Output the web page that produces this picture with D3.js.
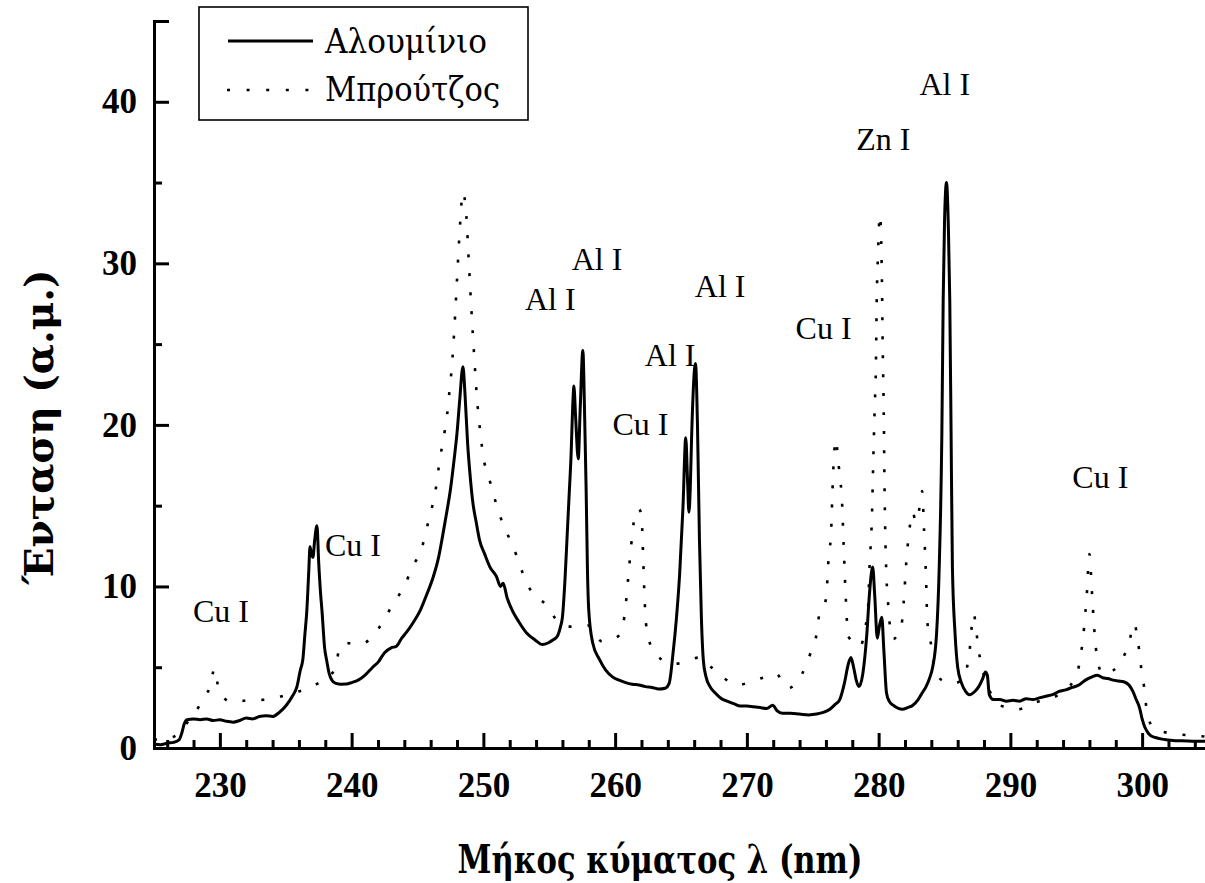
<!DOCTYPE html>
<html>
<head>
<meta charset="utf-8">
<script src="https://cdn.jsdelivr.net/npm/d3@7"></script>
<style>
  body { margin: 0; background: #fff; }
  svg { display: block; font-family: "Liberation Serif", "DejaVu Serif", serif; }
</style>
</head>
<body>
<svg class="chart1"></svg>
<script>
// Aluminium spectrum (solid line): wavelength in nm, intensity in a.u.
var alX = [225.0,225.5,226.0,226.5,226.9,227.1,227.3,227.5,228.0,228.5,229.0,229.5,230.0,230.5,231.0,231.5,232.0,232.5,233.0,233.5,234.0,234.5,235.0,235.5,235.85,236.1,236.3,236.45,236.6,236.75,236.84,236.95,237.06,237.2,237.37,237.5,237.65,237.75,237.95,238.1,238.3,238.5,238.8,239.2,239.6,240.0,240.5,241.0,241.6,242.0,242.5,243.0,243.4,243.8,244.2,244.7,245.2,245.7,246.2,246.6,246.9,247.2,247.5,247.8,248.0,248.2,248.45,248.6,248.8,249.0,249.2,249.45,249.7,250.1,250.5,251.0,251.3,251.5,251.8,252.2,252.7,253.3,253.9,254.5,254.9,255.3,255.6,255.85,256.0,256.2,256.35,256.5,256.65,256.8,256.87,257.0,257.2,257.35,257.55,257.7,257.8,257.9,258.0,258.3,258.8,259.3,259.8,260.3,260.8,261.3,261.8,262.3,262.8,263.3,263.8,264.1,264.4,264.65,264.9,265.15,265.36,265.5,265.6,265.7,265.8,266.1,266.25,266.4,266.55,266.7,266.9,267.2,267.6,268.0,268.5,269.0,269.5,270.0,270.5,271.0,271.5,271.96,272.3,272.7,273.3,274.0,274.7,275.3,275.8,276.3,276.7,277.05,277.4,277.7,277.9,278.1,278.3,278.5,278.8,279.1,279.3,279.55,279.7,279.9,280.05,280.24,280.4,280.6,280.8,281.1,281.5,281.8,282.2,282.6,283.0,283.3,283.6,283.9,284.1,284.4,284.6,284.8,284.9,285.0,285.15,285.3,285.4,285.5,285.6,285.8,286.0,286.3,286.6,286.9,287.3,287.6,287.9,288.1,288.25,288.4,288.7,289.2,289.7,290.2,290.7,291.2,291.7,292.2,292.7,293.2,293.7,294.2,294.7,295.2,295.7,296.2,296.6,297.0,297.4,297.8,298.2,298.6,299.0,299.3,299.55,299.8,300.0,300.2,300.4,300.6,301.0,301.5,302.0,302.5,303.0,304.0,305.0];
var alY = [0.25,0.2,0.3,0.35,0.5,0.9,1.5,1.75,1.8,1.75,1.8,1.7,1.75,1.65,1.6,1.7,1.85,1.8,1.95,2.0,1.95,2.2,2.6,3.2,3.8,4.8,5.5,7.0,8.5,11.0,12.45,12.0,11.8,12.9,13.75,11.5,9.5,8.5,6.2,5.45,4.6,4.2,4.0,3.95,3.96,4.05,4.2,4.5,5.0,5.3,5.9,6.2,6.3,6.8,7.2,7.8,8.5,9.5,10.6,11.8,13.1,14.5,16.0,18.0,19.5,21.5,23.6,22.0,18.9,16.8,15.2,14.0,12.9,12.0,11.2,10.6,10.0,10.2,9.3,8.5,7.8,7.1,6.7,6.4,6.5,6.7,6.9,7.5,8.1,10.5,13,15.5,18,21.5,22.4,20.5,17.9,21,24.6,20,16,11,8.5,6.5,5.5,4.8,4.4,4.2,4.05,3.95,3.9,3.8,3.75,3.65,3.7,4.0,5.9,8,10.8,14.9,19.2,16.5,14.6,16,19.1,23.8,20,12.9,8,5.4,4.4,3.8,3.4,3.1,2.9,2.75,2.6,2.6,2.55,2.5,2.45,2.65,2.3,2.15,2.15,2.1,2.05,2.1,2.2,2.4,2.7,3.0,4.0,5.2,5.6,5.0,4.2,3.8,4.6,7,9.5,11.2,9.5,6.8,7.5,8.1,6.0,3.4,2.9,2.65,2.45,2.4,2.5,2.65,3.0,3.4,3.8,4.4,5.0,7.1,11.2,19.5,27.7,32.5,35.0,32.0,27.7,19.5,11.2,7.1,5.0,4.0,3.5,3.3,3.5,3.8,4.3,4.7,4.5,3.3,3.0,3.0,2.9,2.95,2.9,3.05,3.0,3.1,3.2,3.3,3.5,3.6,3.75,3.9,4.2,4.4,4.5,4.35,4.3,4.2,4.15,4.1,3.9,3.5,3.0,2.5,1.8,1.3,1.0,0.8,0.65,0.55,0.5,0.45,0.45,0.42,0.42];

// Brass spectrum (dotted line)
var brX = [225.0,225.5,226.4,227.0,227.8,228.4,228.9,229.2,229.6,229.9,230.3,230.9,232.1,233.6,235.1,236.5,237.75,238.5,238.8,239.1,239.6,240.5,241.6,242.5,243.2,244.0,244.6,245.3,245.7,246.1,246.4,246.6,246.85,247.1,247.3,247.45,247.6,247.8,248.0,248.2,248.45,248.7,248.9,249.1,249.3,249.5,249.8,250.0,250.4,250.8,251.25,251.9,252.5,253.0,253.7,254.8,255.7,256.8,257.9,259.0,260.2,260.7,261.0,261.3,261.5,261.8,262.0,262.1,262.2,262.3,262.5,263.2,264.5,265.5,266.4,267.3,268.3,269.3,270.3,271.2,272.2,273.1,274.2,274.8,275.3,275.5,276.0,276.2,276.4,276.5,276.6,276.75,276.9,277.05,277.2,277.35,277.5,277.7,278.6,279.0,279.2,279.3,279.5,279.6,279.7,279.8,279.85,279.95,280.1,280.25,280.3,280.4,280.45,280.5,280.6,280.7,280.8,281.1,281.75,281.9,282.1,282.4,282.6,282.8,283.0,283.2,283.3,283.45,283.6,283.7,284.0,284.2,284.8,285.7,286.5,286.9,287.2,287.6,288.0,288.5,289.2,290.6,291.8,293.2,294.0,294.8,295.3,295.6,295.8,296.0,296.2,296.4,296.6,297.0,297.8,298.5,299.0,299.4,299.7,300.0,300.2,300.35,300.9,302.0,303.4,305.0];
var brY = [0.5,0.6,0.68,1.0,1.9,2.55,3.3,3.65,4.9,3.65,3.1,2.85,2.95,3.0,3.3,3.65,4.15,4.6,5.0,6.3,6.5,6.4,6.9,8.0,9.0,10.0,11.2,12.3,13.6,14.9,16.1,17.3,18.6,19.8,21.0,22.3,23.5,26,29,32,34.4,33,30,27,24.3,21.8,19.3,18.0,16.8,15.6,14.4,13.1,11.95,10.8,9.6,8.85,7.8,7.5,7.6,6.6,6.9,8.1,10.6,13.2,14.4,14.8,14.4,12.5,10.0,8.2,6.9,5.7,5.2,5.4,5.6,5.0,4.3,3.9,4.1,4.35,4.6,3.7,4.6,5.8,7.1,8.3,9.2,11.7,13.5,16.0,17.9,19.1,18.1,16.8,15.6,12.5,9.4,6.9,6.3,7.5,8.7,11,14.5,18,21,24,27.4,30.5,33.0,29,25.5,20,16,13.5,10.5,9.2,8.0,6.75,7.7,9.0,11.5,13.9,14.6,14.0,14.3,15.6,15.9,13.5,10.5,7.8,6.3,5.1,4.2,4.0,4.4,6.0,8.3,6.0,4.5,3.4,2.65,2.4,2.8,3.1,3.5,4.2,5.5,7.5,9.5,12.0,9.5,7.0,5.5,4.6,4.8,5.5,6.5,7.7,6.5,4.5,3.5,2.3,1.2,0.93,0.8,0.7];

// Line identifications written over the peaks
var labelText = ["Cu I","Cu I","Al I","Al I","Cu I","Al I","Al I","Cu I","Zn I","Al I","Cu I"];
var labelX = [227.96,237.97,253.15,256.7,259.8,262.25,266.05,273.7,278.3,283.1,294.7];
var labelY = [7.8,11.9,27.1,29.6,19.4,23.65,27.9,25.3,37.0,40.4,16.1];

var xTicks = [230,240,250,260,270,280,290,300];
var yTicks = [0,10,20,30,40];
var seriesNames = ["Αλουμίνιο","Μπρούτζος"];

var width = 1205,
    height = 883,
    margin = {left: 154, bottom: 135, top: 21};

var x = d3.scaleLinear().domain([225, 305]).range([margin.left, 1208]);
var y = d3.scaleLinear().domain([0, 45]).range([height - margin.bottom, margin.top]);

var svg = d3.select(".chart1")
    .attr("width", width)
    .attr("height", height);

// minor ticks first, majors on top (all ticks point inward)
var xMinor = d3.range(226, 305, 2).filter(function(d) { return d % 10 != 0; });
var yMinor = d3.range(5, 46, 10);

var xAxisG = svg.append("g")
    .attr("transform", "translate(0," + y(0) + ")");
xAxisG.call(d3.axisBottom(x).tickValues(xMinor).tickSize(-8).tickFormat(""));
xAxisG.append("g").call(d3.axisBottom(x).tickValues(xTicks).tickSize(-15).tickPadding(24).tickFormat(d3.format("d")));

var yAxisG = svg.append("g")
    .attr("transform", "translate(" + x(225) + ",0)");
yAxisG.call(d3.axisLeft(y).tickValues(yMinor).tickSize(-8).tickFormat(""));
yAxisG.append("g").call(d3.axisLeft(y).tickValues(yTicks).tickSize(-15).tickPadding(17).tickFormat(d3.format("d")));

// keep one axis line per axis, drop the duplicate from the major tick group
svg.selectAll(".domain").attr("stroke", "#000").attr("stroke-width", 3);
xAxisG.select("g").select(".domain").remove();
yAxisG.select("g").select(".domain").remove();
svg.selectAll(".tick line").attr("stroke", "#000").attr("stroke-width", 3);
svg.selectAll(".tick text")
    .attr("font-family", "Liberation Serif")
    .attr("font-size", 35)
    .attr("font-weight", "bold")
    .attr("fill", "#000");

var line = d3.line()
    .x(function(d) { return x(d[0]); })
    .y(function(d) { return y(d[1]); })
    .curve(d3.curveMonotoneX);

var brData = brX.map(function(v, i) { return [v, brY[i]]; });
var alData = alX.map(function(v, i) { return [v, alY[i]]; });

svg.append("path")
    .datum(brData)
    .attr("fill", "none")
    .attr("stroke", "#000")
    .attr("stroke-width", 2.6)
    .attr("stroke-dasharray", "3,16")
    .attr("d", line);

svg.append("path")
    .datum(alData)
    .attr("fill", "none")
    .attr("stroke", "#000")
    .attr("stroke-width", 3)
    .attr("stroke-linejoin", "round")
    .attr("d", line);

// peak labels
svg.selectAll(".peak")
    .data(labelText)
    .enter().append("text")
    .attr("class", "peak")
    .attr("x", function(d, i) { return x(labelX[i]); })
    .attr("y", function(d, i) { return y(labelY[i]); })
    .attr("font-size", 32)
    .text(function(d) { return d; });

// legend
var legend = svg.append("g");
legend.append("rect")
    .attr("x", 199).attr("y", 7)
    .attr("width", 329).attr("height", 113)
    .attr("fill", "#fff")
    .attr("stroke", "#000")
    .attr("stroke-width", 1.6);
legend.append("line")
    .attr("x1", 228).attr("x2", 313).attr("y1", 41).attr("y2", 41)
    .attr("stroke", "#000").attr("stroke-width", 3);
legend.append("line")
    .attr("x1", 227).attr("x2", 313).attr("y1", 90).attr("y2", 90)
    .attr("stroke", "#000").attr("stroke-width", 2.6)
    .attr("stroke-dasharray", "3,16.6");
var legendWidths = [162, 175];
legend.selectAll("text")
    .data(seriesNames)
    .enter().append("text")
    .attr("x", 325)
    .attr("y", function(d, i) { return 53 + i * 48; })
    .attr("font-family", "DejaVu Serif")
    .attr("font-size", 34)
    .attr("textLength", function(d, i) { return legendWidths[i]; })
    .attr("lengthAdjust", "spacingAndGlyphs")
    .text(function(d) { return d; });

// axis titles
svg.append("text")
    .attr("x", 660).attr("y", 873)
    .attr("text-anchor", "middle")
    .attr("font-family", "DejaVu Serif")
    .attr("font-size", 40)
    .attr("font-weight", "bold")
    .attr("textLength", 405)
    .attr("lengthAdjust", "spacingAndGlyphs")
    .text("Μήκος κύματος λ (nm)");

svg.append("text")
    .attr("transform", "translate(53,427) rotate(-90)")
    .attr("text-anchor", "middle")
    .attr("font-family", "DejaVu Serif")
    .attr("font-size", 40)
    .attr("font-weight", "bold")
    .attr("textLength", 315)
    .attr("lengthAdjust", "spacingAndGlyphs")
    .text("Ένταση (α.μ.)");
</script>
</body>
</html>
